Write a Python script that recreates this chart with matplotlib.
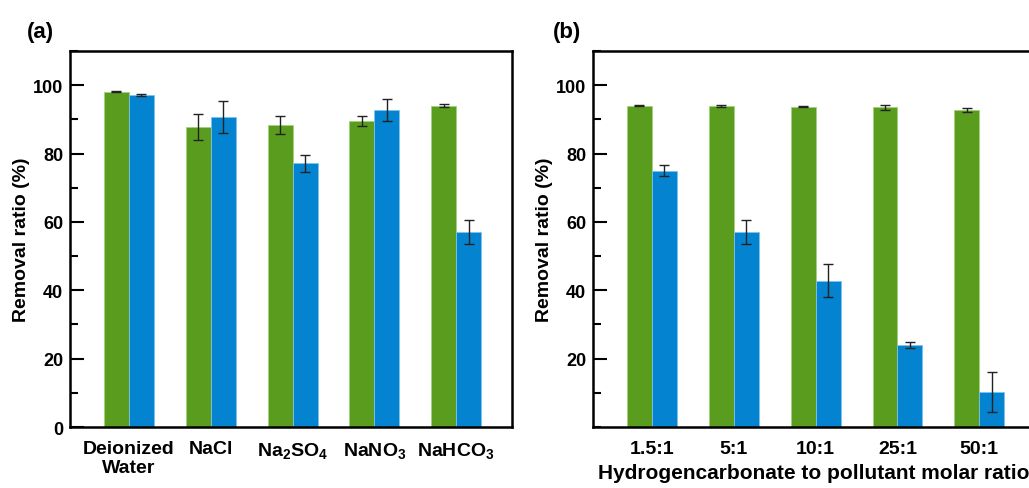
import numpy as np
import matplotlib
matplotlib.use("Agg")
import matplotlib.pyplot as plt
from matplotlib.ticker import MultipleLocator

plt.rcParams["font.family"] = ["Liberation Sans", "DejaVu Sans"]
plt.rcParams["font.weight"] = "bold"
plt.rcParams["mathtext.fontset"] = "custom"
plt.rcParams["mathtext.rm"] = "Liberation Sans:bold"
plt.rcParams["mathtext.bf"] = "Liberation Sans:bold"
plt.rcParams["mathtext.default"] = "rm"

# (a) background salts
salts = ["Deionized\nWater", "NaCl", "Na$_2$SO$_4$", "NaNO$_3$", "NaHCO$_3$"]
salt_green = [98.1, 87.9, 88.4, 89.5, 94.0]
salt_green_err = [0.2, 3.8, 2.6, 1.4, 0.4]
salt_blue = [97.1, 90.7, 77.1, 92.8, 57.0]
salt_blue_err = [0.3, 4.6, 2.5, 3.2, 3.6]

# (b) hydrogencarbonate ratio
ratios = ["1.5:1", "5:1", "10:1", "25:1", "50:1"]
ratio_green = [94.0, 93.9, 93.7, 93.5, 92.8]
ratio_green_err = [0.2, 0.4, 0.2, 0.8, 0.6]
ratio_blue = [75.0, 57.0, 42.8, 23.9, 10.3]
ratio_blue_err = [1.7, 3.6, 4.9, 0.9, 5.9]

GREEN = "#5a9d1e"
BLUE = "#0383d0"
W = 0.305


def draw(ax, labels, g, ge, b, be, yticks):
    x = np.arange(len(labels))
    ekw = dict(ecolor="#222222", elinewidth=1.0, capsize=3.8, capthick=1.0)
    ax.bar(x - W / 2, g, W, color=GREEN, edgecolor="#9fd27a", linewidth=0.6,
           yerr=ge, error_kw=ekw)
    ax.bar(x + W / 2, b, W, color=BLUE, edgecolor="#7cc3ef", linewidth=0.6,
           yerr=be, error_kw=ekw)
    ax.set_xlim(-0.72, 4.68)
    ax.set_ylim(0, 110)
    ax.set_xticks(x)
    ax.set_xticklabels(labels, fontsize=14, fontweight="bold")
    ax.tick_params(axis="x", length=0, pad=9)
    ax.set_yticks(yticks)
    ax.yaxis.set_minor_locator(MultipleLocator(10))
    ax.tick_params(axis="y", which="major", direction="in", length=10,
                   width=1.5, labelsize=13, pad=5)
    ax.tick_params(axis="y", which="minor", direction="in", length=6, width=1.5)
    for lab in ax.get_yticklabels():
        lab.set_fontweight("bold")
    for sp in ax.spines.values():
        sp.set_linewidth(1.8)
    ax.set_ylabel("Removal ratio (%)", fontsize=14, fontweight="bold", labelpad=2)


fig = plt.figure(figsize=(10.29, 4.89), dpi=100)
ax1 = fig.add_axes([0.068, 0.1247, 0.4295, 0.769])
ax2 = fig.add_axes([0.5763, 0.1247, 0.4295, 0.769])

draw(ax1, salts, salt_green, salt_green_err, salt_blue, salt_blue_err,
     [0, 20, 40, 60, 80, 100])
draw(ax2, ratios, ratio_green, ratio_green_err, ratio_blue, ratio_blue_err,
     [20, 40, 60, 80, 100])
ax2.set_xlabel("Hydrogencarbonate to pollutant molar ratio", fontsize=15,
               fontweight="bold", labelpad=5)

fig.text(0.026, 0.922, "(a)", fontsize=16, fontweight="bold")
fig.text(0.537, 0.922, "(b)", fontsize=16, fontweight="bold")

fig.savefig("out.png", dpi=100)
